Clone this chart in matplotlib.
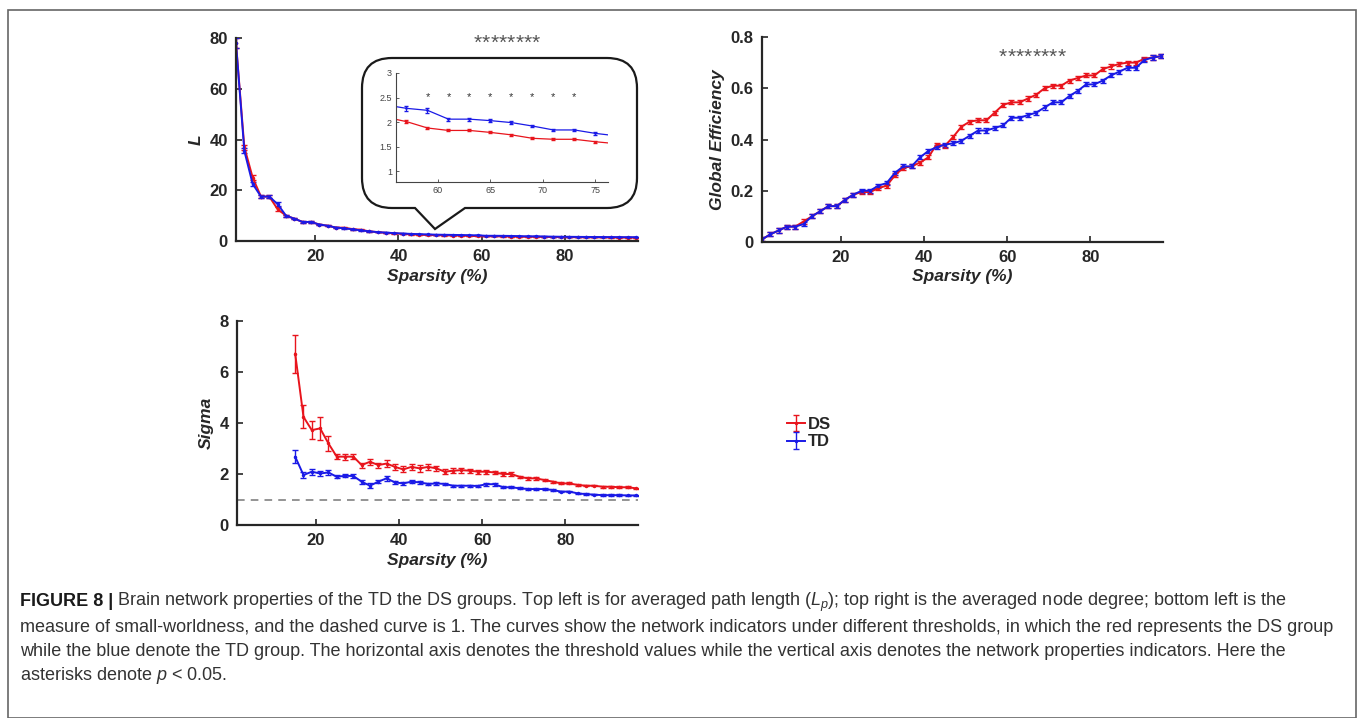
import numpy as np
import matplotlib
matplotlib.use('Agg')
from matplotlib import pyplot as plt
from matplotlib.path import Path
from matplotlib.patches import PathPatch, Rectangle

plt.rcParams['font.family'] = ['Liberation Sans', 'DejaVu Sans']
plt.rcParams['mathtext.fontset'] = 'custom'
plt.rcParams['mathtext.rm'] = 'Liberation Sans'
plt.rcParams['mathtext.it'] = 'Liberation Sans:italic'

# sparsity levels
spars = list(range(1, 98, 2))
spars_sigma = list(range(15, 98, 2))
sig_x = [59, 61, 63, 65, 67, 69, 71, 73]

# characteristic path length L
L_ds = [78, 37, 25, 17.5, 17.5, 12.5, 10, 8.8, 7.5, 7.5, 6.5, 6, 5.3, 5.2, 4.7, 4.4, 3.8,
        3.5, 3.2, 3.0, 2.8, 2.6, 2.45, 2.35, 2.3, 2.2, 2.15, 2.1, 2.01, 1.88, 1.83, 1.83,
        1.79, 1.74, 1.67, 1.65, 1.65, 1.60, 1.56, 1.53, 1.5, 1.47, 1.44, 1.42, 1.40, 1.38,
        1.36, 1.34, 1.32]
L_td = [78, 35.5, 22.5, 17.5, 17.5, 14.5, 10, 8.8, 7.5, 7.5, 6.5, 6, 5.3, 5.0, 4.6, 4.2,
        3.8, 3.5, 3.3, 3.1, 2.95, 2.8, 2.7, 2.6, 2.5, 2.45, 2.4, 2.35, 2.28, 2.24, 2.06,
        2.06, 2.03, 1.99, 1.92, 1.84, 1.84, 1.77, 1.72, 1.68, 1.65, 1.62, 1.6, 1.58, 1.56,
        1.54, 1.52, 1.5, 1.5]
L_ds_err = [2, 1.0, 0.9, 0.6, 0.5, 0.8, 0.4, 0.3, 0.3, 0.3, 0.2, 0.2, 0.2, 0.2, 0.2, 0.2,
            0.15, 0.1, 0.1, 0.1, 0.1, 0.05, 0.05, 0.05, 0.05, 0.04, 0.04, 0.03, 0.03, 0.03,
            0.02, 0.02, 0.02, 0.02, 0.02, 0.02, 0.02, 0.02, 0.02, 0.02, 0.02, 0.02, 0.02,
            0.02, 0.02, 0.02, 0.02, 0.02, 0.02]
L_td_err = [2, 1.0, 0.9, 0.6, 0.5, 0.8, 0.4, 0.3, 0.3, 0.3, 0.2, 0.2, 0.2, 0.2, 0.2, 0.2,
            0.15, 0.1, 0.1, 0.1, 0.1, 0.05, 0.05, 0.05, 0.05, 0.04, 0.04, 0.04, 0.05, 0.05,
            0.03, 0.03, 0.03, 0.03, 0.02, 0.02, 0.02, 0.03, 0.02, 0.02, 0.02, 0.02, 0.02,
            0.02, 0.02, 0.02, 0.02, 0.02, 0.02]

# global efficiency
E_ds = [0.01, 0.03, 0.045, 0.06, 0.06, 0.08, 0.1, 0.12, 0.14, 0.14, 0.165, 0.185, 0.195,
        0.195, 0.21, 0.22, 0.26, 0.29, 0.295, 0.31, 0.33, 0.38, 0.375, 0.41, 0.45, 0.47,
        0.475, 0.475, 0.505, 0.535, 0.545, 0.545, 0.56, 0.575, 0.60, 0.61, 0.61, 0.63, 0.64,
        0.65, 0.65, 0.675, 0.685, 0.695, 0.70, 0.70, 0.715, 0.72, 0.725]
E_td = [0.01, 0.03, 0.045, 0.06, 0.06, 0.07, 0.1, 0.12, 0.14, 0.14, 0.165, 0.185, 0.20,
        0.20, 0.22, 0.23, 0.27, 0.295, 0.295, 0.33, 0.355, 0.37, 0.38, 0.385, 0.395, 0.415,
        0.435, 0.435, 0.445, 0.455, 0.485, 0.485, 0.495, 0.505, 0.525, 0.545, 0.545, 0.57,
        0.59, 0.615, 0.615, 0.63, 0.65, 0.665, 0.68, 0.68, 0.71, 0.72, 0.725]
E_err = 0.008

# small-worldness sigma
S_ds = [6.72, 4.24, 3.72, 3.79, 3.2, 2.68, 2.68, 2.68, 2.35, 2.48, 2.35, 2.41, 2.28, 2.18,
        2.28, 2.22, 2.28, 2.22, 2.09, 2.13, 2.15, 2.13, 2.09, 2.09, 2.06, 2.0, 2.0, 1.89,
        1.83, 1.83, 1.76, 1.70, 1.63, 1.63, 1.57, 1.54, 1.54, 1.5, 1.5, 1.48, 1.48, 1.44]
S_ds_err = [0.75, 0.45, 0.35, 0.45, 0.3, 0.1, 0.12, 0.1, 0.1, 0.12, 0.1, 0.15, 0.12, 0.12,
            0.12, 0.14, 0.12, 0.1, 0.1, 0.1, 0.1, 0.08, 0.08, 0.08, 0.07, 0.07, 0.07, 0.05,
            0.05, 0.05, 0.04, 0.04, 0.04, 0.04, 0.04, 0.03, 0.03, 0.03, 0.03, 0.03, 0.03, 0.03]
S_td = [2.68, 1.96, 2.09, 2.02, 2.06, 1.89, 1.93, 1.92, 1.70, 1.54, 1.70, 1.83, 1.67, 1.63,
        1.70, 1.67, 1.61, 1.63, 1.61, 1.54, 1.54, 1.54, 1.53, 1.6, 1.6, 1.48, 1.48, 1.44,
        1.41, 1.41, 1.41, 1.37, 1.31, 1.31, 1.24, 1.21, 1.19, 1.17, 1.17, 1.17, 1.16, 1.16]
S_td_err = [0.25, 0.1, 0.12, 0.08, 0.1, 0.06, 0.06, 0.07, 0.08, 0.1, 0.07, 0.1, 0.06, 0.05,
            0.05, 0.05, 0.05, 0.05, 0.04, 0.04, 0.04, 0.04, 0.04, 0.06, 0.06, 0.04, 0.04,
            0.04, 0.03, 0.03, 0.03, 0.03, 0.03, 0.03, 0.03, 0.03, 0.03, 0.03, 0.03, 0.03,
            0.03, 0.03]

caption = [
    "Brain network properties of the TD the DS groups. Top left is for averaged path length ($L_p$); top right is the averaged node degree; bottom left is the",
    "measure of small-worldness, and the dashed curve is 1. The curves show the network indicators under different thresholds, in which the red represents the DS group",
    "while the blue denote the TD group. The horizontal axis denotes the threshold values while the vertical axis denotes the network properties indicators. Here the",
    "asterisks denote $p$ < 0.05.",
]

W, H = 1357, 718
red = '#e8141c'
blue = '#1a1ae6'
dark = '#262626'

fig = plt.figure(figsize=(W / 100, H / 100), dpi=100)


def px_axes(x0, y0, x1, y1, **kw):
    return fig.add_axes([x0 / W, 1 - y1 / H, (x1 - x0) / W, (y1 - y0) / H], **kw)


def style(ax, xl, yl):
    for s in ['top', 'right']:
        ax.spines[s].set_visible(False)
    for s in ['left', 'bottom']:
        ax.spines[s].set_linewidth(1.6)
        ax.spines[s].set_color(dark)
    ax.tick_params(direction='in', length=4, width=1.2, colors=dark, labelsize=12, pad=6)
    for lab in ax.get_xticklabels() + ax.get_yticklabels():
        lab.set_fontweight('bold')
    ax.set_xlabel(xl, fontsize=12.5, fontweight='bold', fontstyle='italic', color=dark, labelpad=3)
    ax.set_ylabel(yl, fontsize=12.5, fontweight='bold', fontstyle='italic', color=dark, labelpad=4)


def curves(ax, x, yd, ed, yt, et, lw=1.4, cs=2, ms=3):
    h1 = ax.errorbar(x, yd, yerr=ed, color=red, lw=lw, elinewidth=1, capsize=cs,
                     marker='.', ms=ms, label='DS')
    h2 = ax.errorbar(x, yt, yerr=et, color=blue, lw=lw, elinewidth=1, capsize=cs,
                     marker='.', ms=ms, label='TD')
    return h1, h2


# top left: L
ax1 = px_axes(236, 38, 638, 241)
curves(ax1, spars, L_ds, L_ds_err, L_td, L_td_err)
ax1.set_xlim(1, 97.5)
ax1.set_ylim(0, 80)
ax1.set_xticks([20, 40, 60, 80])
ax1.set_yticks([0, 20, 40, 60, 80])
style(ax1, 'Sparsity (%)', 'L')
for xs in sig_x:
    ax1.text(xs, 78.0, '*', ha='center', va='center', fontsize=15, color='#555555', clip_on=False)

# callout bubble (pixel coords, y down)
Lb, Rb, Tb, Bb, r = 362, 637, 58, 208, 30
pts = [(Lb + r, Tb), (Rb - r, Tb), (Rb, Tb), (Rb, Tb + r), (Rb, Bb - r), (Rb, Bb), (Rb - r, Bb),
       (465, Bb), (435, 229), (415, Bb), (Lb + r, Bb), (Lb, Bb), (Lb, Bb - r), (Lb, Tb + r),
       (Lb, Tb), (Lb + r, Tb), (Lb + r, Tb)]
codes = [Path.MOVETO, Path.LINETO, Path.CURVE3, Path.CURVE3, Path.LINETO, Path.CURVE3, Path.CURVE3,
         Path.LINETO, Path.LINETO, Path.LINETO, Path.LINETO, Path.CURVE3, Path.CURVE3, Path.LINETO,
         Path.CURVE3, Path.CURVE3, Path.CLOSEPOLY]
verts = [(x / W, 1 - y / H) for x, y in pts]
bubble = PathPatch(Path(verts, codes), transform=fig.transFigure, facecolor='white',
                   edgecolor='#1a1a1a', lw=1.6, zorder=2)
fig.add_artist(bubble)

# inset
axi = px_axes(396, 73, 608, 182, zorder=3)
axi.errorbar(spars, L_ds, yerr=L_ds_err, color=red, lw=0.9, elinewidth=0.7, capsize=1.5,
             marker='.', ms=2)
axi.errorbar(spars, L_td, yerr=L_td_err, color=blue, lw=0.9, elinewidth=0.7, capsize=1.5,
             marker='.', ms=2)
axi.set_xlim(56, 76.2)
axi.set_ylim(0.78, 3)
axi.set_xticks([60, 65, 70, 75])
axi.set_yticks([1, 1.5, 2, 2.5, 3])
axi.set_yticklabels(['1', '1.5', '2', '2.5', '3'])
for s in ['top', 'right']:
    axi.spines[s].set_visible(False)
for s in ['left', 'bottom']:
    axi.spines[s].set_linewidth(0.8)
    axi.spines[s].set_color('#444444')
axi.tick_params(direction='in', length=2, width=0.6, colors='#444444', labelsize=6.5, pad=3)
for xs in sig_x:
    axi.text(xs, 2.5, '*', ha='center', va='center', fontsize=8, color='#333333')

# top right: global efficiency
ax2 = px_axes(762, 37, 1163, 242)
curves(ax2, spars, E_ds, E_err, E_td, E_err)
ax2.set_xlim(1, 97.5)
ax2.set_ylim(0, 0.8)
ax2.set_xticks([20, 40, 60, 80])
ax2.set_yticks([0, 0.2, 0.4, 0.6, 0.8])
ax2.set_yticklabels(['0', '0.2', '0.4', '0.6', '0.8'])
style(ax2, 'Sparsity (%)', 'Global Efficiency')
for xs in sig_x:
    ax2.text(xs, 0.722, '*', ha='center', va='center', fontsize=15, color='#555555')

# bottom left: sigma
ax3 = px_axes(237, 321, 638, 525)
h_ds, h_td = curves(ax3, spars_sigma, S_ds, S_ds_err, S_td, S_td_err)
ax3.axhline(1, color='#777777', lw=1.1, ls=(0, (5, 4)))
ax3.set_xlim(1, 97.5)
ax3.set_ylim(0, 8)
ax3.set_xticks([20, 40, 60, 80])
ax3.set_yticks([0, 2, 4, 6, 8])
style(ax3, 'Sparsity (%)', 'Sigma')

fig.legend([h_ds, h_td], ['DS', 'TD'], loc='upper left', bbox_to_anchor=(772 / W, 1 - 402 / H),
           frameon=False, handlelength=1.1, handletextpad=0.15, labelspacing=0.15,
           prop={'weight': 'bold', 'size': 12}, labelcolor=dark)

# outer frame
fig.add_artist(Rectangle((8 / W, 0), (1356 - 8) / W, 1 - 10 / H, transform=fig.transFigure,
                         fill=False, edgecolor='#666666', lw=1.2, clip_on=False))

# caption
rend = fig.canvas.get_renderer()
ys = [602, 627, 651, 675]
cap_size = 13
t0 = fig.text(20 / W, 1 - ys[0] / H, 'FIGURE 8 |', fontsize=cap_size, fontweight='bold',
              va='center', ha='left', color='#1a1a1a')
bb = t0.get_window_extent(renderer=rend)
fig.text((bb.x1 + 4) / W, 1 - ys[0] / H, caption[0], fontsize=cap_size, va='center', ha='left',
         color='#333333')
for yy, line in zip(ys[1:], caption[1:]):
    fig.text(20 / W, 1 - yy / H, line, fontsize=cap_size, va='center', ha='left', color='#333333')

fig.savefig('out.png', dpi=100)
